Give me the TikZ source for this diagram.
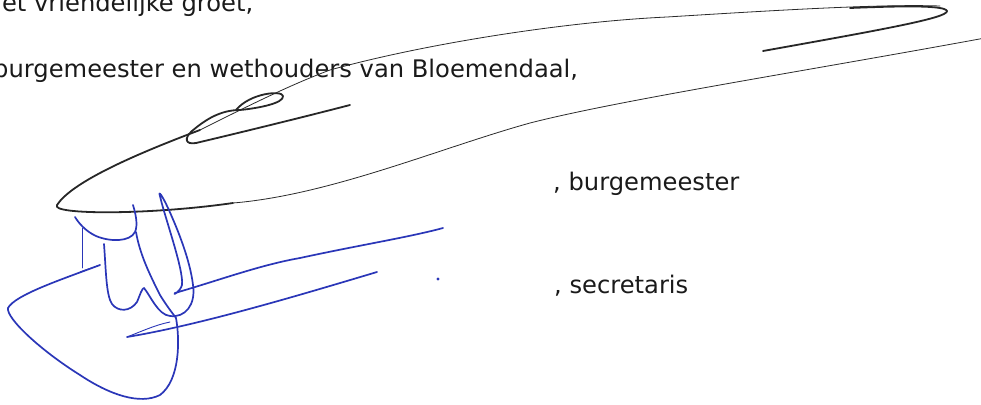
\documentclass[tikz,border=0pt]{standalone}
\usepackage{fontspec}
\setmainfont{DejaVu Sans}
\definecolor{ink}{HTML}{1A1A1A}
\definecolor{pen}{HTML}{2B2B2B}
\definecolor{blu}{HTML}{2A36B8}
\tikzset{
  txt/.style={anchor=base west, inner sep=0pt, text=ink, font=\fontsize{24.2}{28}\selectfont},
  thinblack/.style={draw=pen, line width=0.8pt, line cap=round, line join=round},
  boldblack/.style={draw=pen!90!black, line width=1.8pt, line cap=round, line join=round},
  thinblue/.style={draw=blu, line width=0.9pt, line cap=round, line join=round},
  boldblue/.style={draw=blu, line width=1.7pt, line cap=round, line join=round},
}
\begin{document}
\begin{tikzpicture}[x=1pt,y=-1pt]
\useasboundingbox (0,0) rectangle (981,404);
\fill[white] (0,0) rectangle (981,404);
% texts
\node[txt] (groet) at (-19,12) {Met vriendelijke groet,};
\node[txt] (bw) at (-7,77) {burgemeester en wethouders van Bloemendaal,};
\node[txt] (bm) at (553,190) {, burgemeester};
\node[txt] (sc) at (554,293) {, secretaris};
% black signature: outer sweep
\coordinate (b0) at (985,38);
\coordinate (b2) at (530,123);
\coordinate (b3) at (233,203);
\coordinate (b4) at (57,205);
\coordinate (b5) at (200,130);
\coordinate (b6) at (330,70);
\coordinate (b7) at (667,17);
\coordinate (b8) at (940,6);
\coordinate (b9) at (763,51);
\draw[thinblack] (b0) .. controls (800,72) and (620,100) .. (b2)
  .. controls (440,148) and (330,195) .. (b3);
\draw[boldblack] (b3) .. controls (150,215) and (50,215) .. (b4)
  .. controls (70,185) and (120,160) .. (b5);
\draw[thinblack] (b5) .. controls (250,105) and (290,85) .. (b6)
  .. controls (420,45) and (560,22) .. (b7)
  .. controls (780,10) and (880,4) .. (b8);
\draw[boldblack] (850,8) .. controls (900,6) and (945,5) .. (947,11)
  .. controls (948,18) and (880,30) .. (b9);
% inner loop
\draw[boldblack] (350,105) .. controls (300,118) and (230,135) .. (196,143)
  .. controls (185,145) and (184,138) .. (192,131)
  .. controls (205,120) and (220,110) .. (240,110)
  .. controls (260,108) and (284,103) .. (283,96)
  .. controls (282,90) and (250,93) .. (236,110);
% blue signature
\draw[thinblue] (80,272) .. controls (88,269) and (95,267) .. (100,265);
\draw[boldblue] (100,265) .. controls (60,280) and (15,295) .. (8,308)
  .. controls (6,318) and (40,350) .. (80,375)
  .. controls (110,395) and (140,405) .. (160,395)
  .. controls (180,380) and (180,340) .. (176,318);
\draw[boldblue] (133,205) .. controls (136,215) and (138,225) .. (135,232)
  .. controls (130,242) and (110,242) .. (96,236)
  .. controls (85,231) and (78,222) .. (75,217);
\draw[thinblue] (82,228) -- (82,268);
\draw[boldblue] (136,232) .. controls (140,255) and (150,275) .. (160,295)
  .. controls (168,308) and (174,315) .. (176,318);
\draw[boldblue] (104,244) .. controls (106,270) and (106,295) .. (112,304)
  .. controls (118,312) and (130,312) .. (137,302)
  .. controls (140,295) and (142,288) .. (144,288)
  .. controls (150,295) and (158,315) .. (170,316)
  .. controls (185,318) and (196,305) .. (193,285)
  .. controls (190,260) and (178,230) .. (168,208)
  .. controls (162,195) and (158,190) .. (160,196)
  .. controls (164,215) and (184,270) .. (182,285)
  .. controls (180,292) and (172,296) .. (175,293)
  .. controls (220,280) and (260,265) .. (300,258)
  .. controls (360,245) and (410,237) .. (443,228);
\draw[boldblue] (127,337) .. controls (200,325) and (300,295) .. (377,272);
\draw[thinblue] (127,337) .. controls (140,332) and (155,325) .. (170,322);
\fill[blu] (438,279) circle (1.6);
\end{tikzpicture}
\end{document}
